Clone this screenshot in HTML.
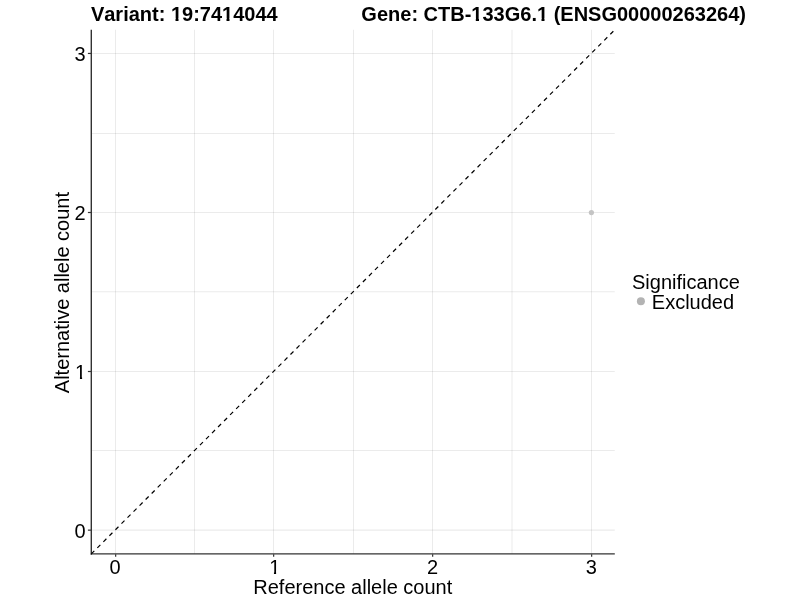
<!DOCTYPE html>
<html>
<head>
<meta charset="utf-8">
<title>Allele count plot</title>
<style>
html,body{margin:0;padding:0;background:#fff;}
body{width:800px;height:600px;overflow:hidden;}
svg{display:block;will-change:transform;transform:translateZ(0);}
text{font-family:"Liberation Sans",Arial,Helvetica,sans-serif;fill:#000;font-kerning:none;}
.t{font-size:20px;}
.b{font-size:20px;font-weight:bold;}
.k{font-size:20px;}
.g{stroke:#000;stroke-opacity:0.079;stroke-width:1.07;fill:none;}
.ax{stroke:#333;stroke-width:1.4;fill:none;}
.tk{stroke:#333;stroke-width:1.2;fill:none;}
</style>
</head>
<body>
<svg width="800" height="600" viewBox="0 0 800 600">
<rect x="0" y="0" width="800" height="600" fill="#ffffff"/>
<!-- grid -->
<g class="g">
<line x1="115.5" y1="29.7" x2="115.5" y2="553.7"/>
<line x1="194.5" y1="29.7" x2="194.5" y2="553.7"/>
<line x1="273.5" y1="29.7" x2="273.5" y2="553.7"/>
<line x1="353.5" y1="29.7" x2="353.5" y2="553.7"/>
<line x1="432.5" y1="29.7" x2="432.5" y2="553.7"/>
<line x1="512.0" y1="29.7" x2="512.0" y2="553.7"/>
<line x1="591.5" y1="29.7" x2="591.5" y2="553.7"/>
<line x1="91.4" y1="530.15" x2="614.8" y2="530.15"/>
<line x1="91.4" y1="450.5" x2="614.8" y2="450.5"/>
<line x1="91.4" y1="371.5" x2="614.8" y2="371.5"/>
<line x1="91.4" y1="291.7" x2="614.8" y2="291.7"/>
<line x1="91.4" y1="212.5" x2="614.8" y2="212.5"/>
<line x1="91.4" y1="133.5" x2="614.8" y2="133.5"/>
<line x1="91.4" y1="53.45" x2="614.8" y2="53.45"/>
</g>
<!-- point -->
<circle cx="591.40" cy="212.60" r="2.6" fill="#c4c4c4"/>
<!-- axes -->
<line class="ax" x1="91.3" y1="29.7" x2="91.3" y2="554.65"/>
<line class="ax" x1="90.8" y1="553.85" x2="614.8" y2="553.85"/>
<!-- diagonal -->
<line x1="91.3" y1="553.9" x2="614.9" y2="29.7" stroke="#000" stroke-width="1.2" stroke-dasharray="4.27 4.27"/>
<!-- ticks -->
<g class="tk">
<line x1="87.9" y1="530.15" x2="91" y2="530.15"/>
<line x1="87.9" y1="371.5" x2="91" y2="371.5"/>
<line x1="87.9" y1="212.5" x2="91" y2="212.5"/>
<line x1="87.9" y1="53.45" x2="91" y2="53.45"/>
<line x1="115.65" y1="554.3" x2="115.65" y2="556.8"/>
<line x1="273.65" y1="554.3" x2="273.65" y2="556.8"/>
<line x1="432.65" y1="554.3" x2="432.65" y2="556.8"/>
<line x1="591.65" y1="554.3" x2="591.65" y2="556.8"/>
</g>
<!-- tick labels -->
<g class="k" text-anchor="end">
<text x="85.7" y="537.60">0</text>
<text x="86.15" y="378.75">1</text>
<text x="85.7" y="219.90">2</text>
<text x="85.7" y="61.05">3</text>
</g>
<g class="k" text-anchor="middle">
<text x="114.95" y="573.7">0</text>
<text x="274.70" y="573.7">1</text>
<text x="432.45" y="573.7">2</text>
<text x="591.20" y="573.7">3</text>
</g>
<!-- trim serif foot of the "1" glyphs (target font has a plain 1) -->
<g fill="#ffffff">
<rect x="267.5" y="571.4" width="6.45" height="3.8"/>
<rect x="276.1" y="571.4" width="5.5" height="3.8"/>
<rect x="74" y="376.4" width="5.95" height="3.8"/>
<rect x="82.1" y="376.4" width="5" height="3.8"/>
</g>
<!-- titles -->
<text class="b" x="90.9" y="21">Variant: 19:7414044</text>
<text class="b" x="746" y="21" text-anchor="end">Gene: CTB-133G6.1 (ENSG00000263264)</text>
<g fill="#ffffff">
<rect x="171" y="18.4" width="4.5" height="3.4"/><rect x="178.5" y="18.4" width="4" height="3.4"/>
<rect x="222" y="18.4" width="4.5" height="3.4"/><rect x="229.5" y="18.4" width="4" height="3.4"/>
<rect x="471" y="18.4" width="4.8" height="3.4"/><rect x="479" y="18.4" width="3.8" height="3.4"/>
<rect x="536.5" y="18.4" width="5" height="3.4"/><rect x="544.5" y="18.4" width="4" height="3.4"/>
</g>
<text class="t" x="352.8" y="593.6" text-anchor="middle">Reference allele count</text>
<text class="t" transform="translate(69.3,292.6) rotate(-90)" text-anchor="middle">Alternative allele count</text>
<!-- legend -->
<text class="t" x="632" y="289.3">Significance</text>
<circle cx="640.9" cy="301.2" r="4" fill="#b3b3b3"/>
<text class="t" x="651.8" y="308.95">Excluded</text>
</svg>
</body>
</html>
